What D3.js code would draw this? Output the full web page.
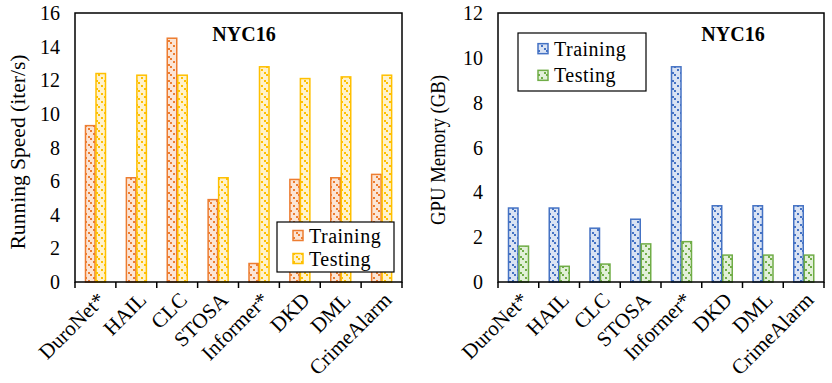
<!DOCTYPE html>
<html lang="en">
<head>
    <meta charset="UTF-8">
    <title>NYC16 speed and memory</title>
    <script src="https://d3js.org/d3.v7.min.js"></script>
    <style>
        body { margin: 0; background: #fff; }
    </style>
</head>
<body>
    <svg id="chart" width="832" height="383"></svg>
    <script>
        // Data
        const models = ["DuroNet*", "HAIL", "CLC", "STOSA", "Informer*", "DKD", "DML", "CrimeAlarm"];
        const speedTrain = [9.3, 6.2, 14.5, 4.9, 1.1, 6.1, 6.2, 6.4];
        const speedTest = [12.4, 12.3, 12.3, 6.2, 12.8, 12.1, 12.2, 12.3];
        const memTrain = [3.3, 3.3, 2.4, 2.8, 9.6, 3.4, 3.4, 3.4];
        const memTest = [1.6, 0.7, 0.8, 1.7, 1.8, 1.2, 1.2, 1.2];
        const speedTicks = [0, 2, 4, 6, 8, 10, 12, 14, 16];
        const memTicks = [0, 2, 4, 6, 8, 10, 12];

        const FONT = "'Liberation Serif', 'Times New Roman', 'DejaVu Serif', serif";

        const svg = d3.select("#chart")
            .attr("font-family", FONT);
        const defs = svg.append("defs");

        // small square patterns like the office "confetti" fills
        function makePattern(id, light, dark) {
            const p = defs.append("pattern")
                .attr("id", id)
                .attr("patternUnits", "userSpaceOnUse")
                .attr("width", 8).attr("height", 8);
            p.append("rect").attr("width", 8).attr("height", 8).attr("fill", light);
            p.append("rect").attr("x", 0).attr("y", 0).attr("width", 2).attr("height", 2).attr("fill", dark);
            p.append("rect").attr("x", 2).attr("y", 2).attr("width", 2).attr("height", 2).attr("fill", dark);
            p.append("rect").attr("x", 5).attr("y", 5).attr("width", 2).attr("height", 2).attr("fill", dark);
        }
        makePattern("pTrainO", "#fbe5d6", "#ed7d31");
        makePattern("pTestY", "#fff2cc", "#ffc000");
        makePattern("pTrainB", "#dae3f3", "#4472c4");
        makePattern("pTestG", "#e2f0d9", "#70ad47");

        function drawPanel(opt) {
            const g = svg.append("g");
            const x = d3.scaleBand().domain(models).range([opt.left, opt.right]);
            const y = d3.scaleLinear().domain([0, d3.max(opt.ticks)]).range([opt.bottom, opt.top]);

            // y tick labels (no tick marks)
            g.selectAll(".ytl")
                .data(opt.ticks)
                .join("text")
                .attr("x", opt.left - 15)
                .attr("y", d => y(d))
                .attr("dy", "0.35em")
                .attr("text-anchor", "end")
                .attr("font-family", FONT)
                .style("font-size", "20px")
                .text(d => d);

            g.append("text")
                .attr("transform", `translate(${opt.labelX},${opt.labelY}) rotate(-90)`)
                .attr("text-anchor", "middle")
                .attr("dy", "0.35em")
                .attr("font-family", FONT)
                .attr("textLength", opt.labelLen)
                .attr("lengthAdjust", "spacingAndGlyphs")
                .style("font-size", "20px")
                .text(opt.yLabel);

            // bars
            const bw = 9.5;
            const series = [
                { vals: opt.train, off: 10.5, stroke: opt.c1, fill: opt.p1 },
                { vals: opt.test, off: 21, stroke: opt.c2, fill: opt.p2 }
            ];
            series.forEach(s => {
                g.selectAll(null)
                    .data(models)
                    .join("rect")
                    .attr("x", d => x(d) + s.off)
                    .attr("y", (d, i) => y(s.vals[i]))
                    .attr("width", bw)
                    .attr("height", (d, i) => y(0) - y(s.vals[i]))
                    .attr("fill", `url(#${s.fill})`)
                    .attr("stroke", s.stroke)
                    .attr("stroke-width", 1.5);
            });

            // frame
            g.append("rect")
                .attr("x", opt.left).attr("y", opt.top)
                .attr("width", opt.right - opt.left)
                .attr("height", opt.bottom - opt.top)
                .attr("fill", "none")
                .attr("stroke", "#000")
                .attr("stroke-width", 1.5);

            // x ticks at band boundaries
            const edges = models.map(m => x(m)).concat([opt.right]);
            g.selectAll(".xt")
                .data(edges)
                .join("line")
                .attr("x1", d => d).attr("x2", d => d)
                .attr("y1", opt.bottom).attr("y2", opt.bottom + 6)
                .attr("stroke", "#000")
                .attr("stroke-width", 1.5);

            g.selectAll(".xl")
                .data(models)
                .join("text")
                .attr("transform", d => `translate(${x(d) + x.bandwidth() / 2 + 6},${opt.bottom + 14}) rotate(-45)`)
                .attr("text-anchor", "end")
                .attr("dy", "0.35em")
                .attr("font-family", FONT)
                .style("font-size", "21px")
                .text(d => d);

            g.append("text")
                .attr("x", opt.titleX)
                .attr("y", opt.top + 21)
                .attr("dy", "0.35em")
                .attr("text-anchor", "middle")
                .attr("font-family", FONT)
                .style("font-size", "20px")
                .style("font-weight", "bold")
                .text("NYC16");

            // legend
            const L = opt.legend;
            g.append("rect")
                .attr("x", L.x).attr("y", L.y)
                .attr("width", L.w).attr("height", L.h)
                .attr("fill", "#fff")
                .attr("stroke", "#000")
                .attr("stroke-width", 1.2);
            [["Training", opt.c1, opt.p1], ["Testing", opt.c2, opt.p2]].forEach((e, i) => {
                const cy = L.y + L.h * (i === 0 ? 0.27 : 0.73);
                g.append("rect")
                    .attr("x", L.x + L.sx)
                    .attr("y", cy - 5)
                    .attr("width", 10).attr("height", 10)
                    .attr("fill", `url(#${e[2]})`)
                    .attr("stroke", e[1])
                    .attr("stroke-width", 1.5);
                g.append("text")
                    .attr("x", L.x + L.sx + 16)
                    .attr("y", cy)
                    .attr("dy", "0.35em")
                    .attr("font-family", FONT)
                    .style("font-size", "20px")
                    .style("letter-spacing", "0.5px")
                    .text(e[0]);
            });
        }

        drawPanel({
            left: 75, right: 402, top: 13, bottom: 282,
            ticks: speedTicks, train: speedTrain, test: speedTest,
            yLabel: "Running Speed (iter/s)", labelX: 18, labelY: 152, labelLen: 195,
            c1: "#ed7d31", c2: "#ffc000", p1: "pTrainO", p2: "pTestY",
            titleX: 244,
            legend: { x: 277, y: 222, w: 117, h: 50, sx: 16 }
        });

        drawPanel({
            left: 498, right: 824, top: 13, bottom: 282,
            ticks: memTicks, train: memTrain, test: memTest,
            yLabel: "GPU Memory (GB)", labelX: 438, labelY: 150, labelLen: 150,
            c1: "#4472c4", c2: "#70ad47", p1: "pTrainB", p2: "pTestG",
            titleX: 733,
            legend: { x: 518, y: 33, w: 128, h: 58, sx: 20 }
        });
    </script>
</body>
</html>
